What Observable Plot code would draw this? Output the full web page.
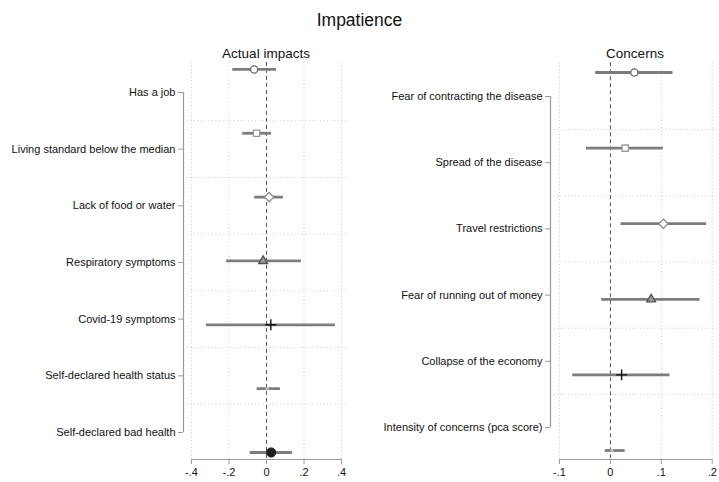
<!DOCTYPE html>
<html>
<head>
<meta charset="utf-8">
<script src="https://cdn.jsdelivr.net/npm/d3@7"></script>
<script src="https://cdn.jsdelivr.net/npm/@observablehq/plot@0.6"></script>
<style>
  html, body { margin: 0; padding: 0; background: #fff; }
  #chart { position: relative; width: 719px; height: 482px; background: #fff; font-family: "Liberation Sans", Arial, sans-serif; }
  #title { height: 40px; line-height: 40px; text-align: center; font-size: 17.5px; color: #111; }
  #panels { display: flex; flex-direction: row; }
  #panels svg { display: block; }
</style>
</head>
<body>
<div id="chart">
  <div id="title">Impatience</div>
  <div id="panels"></div>
</div>
<script>
// ---------------- data ----------------
const chartTitle = "Impatience";
const impactTitle = "Actual impacts";
const impactLabels = ["Has a job", "Living standard below the median", "Lack of food or water",
  "Respiratory symptoms", "Covid-19 symptoms", "Self-declared health status", "Self-declared bad health"];
const impactCoef = [-0.066, -0.053, 0.014, -0.018, 0.023, 0.003, 0.025];
const impactLo   = [-0.180, -0.127, -0.063, -0.213, -0.320, -0.050, -0.087];
const impactHi   = [0.053, 0.027, 0.090, 0.186, 0.367, 0.074, 0.138];
const impactTicks = [-0.4, -0.2, 0, 0.2, 0.4];

const concernTitle = "Concerns";
const concernLabels = ["Fear of contracting the disease", "Spread of the disease", "Travel restrictions",
  "Fear of running out of money", "Collapse of the economy", "Intensity of concerns (pca score)"];
const concernCoef = [0.047, 0.029, 0.104, 0.080, 0.022, 0.003];
const concernLo   = [-0.029, -0.047, 0.021, -0.017, -0.074, -0.010];
const concernHi   = [0.123, 0.104, 0.189, 0.176, 0.117, 0.029];
const concernTicks = [-0.1, 0, 0.1, 0.2];

// ---------------- styles ----------------
const FONT = '"Liberation Sans", Arial, sans-serif';
const markerStyles = [
  {symbol: "circle",    r: 3.6, stroke: "#6a6a6a", fill: "white", strokeWidth: 1.3},
  {symbol: "square2",   r: 4.0, stroke: "#9a9a9a", fill: "white", strokeWidth: 1.3},
  {symbol: "diamond2",  r: 4.2, stroke: "#8a8a8a", fill: "white", strokeWidth: 1.3},
  {symbol: "triangle2", r: 4.2, stroke: "#505050", fill: "#9a9a9a", strokeWidth: 1.3},
  {symbol: "plus",      r: 3.6, stroke: "#111111", fill: "none",  strokeWidth: 1.4},
  {symbol: "square",    r: 1.8, stroke: "none",    fill: "#bdbdbd", strokeWidth: 0},
  {symbol: "circle",    r: 4.6, stroke: "#1e1e1e", fill: "#1e1e1e", strokeWidth: 1}
];

function stataFmt(d) {
  if (Math.abs(d) < 1e-9) return "0";
  return String(+d.toFixed(3)).replace(/^(-?)0\./, "$1.");
}

function panel({title, labels, coef, lo, hi, ticks, width, marginLeft, marginRight, xDomain, yDomain, labelFirst, labelLast}) {
  const n = labels.length;
  const rows = labels.map((l, i) => ({label: l, pos: i + 1, coef: coef[i], lo: lo[i], hi: hi[i]}));
  const step = (labelLast - labelFirst) / (n - 1);
  const labelPos = labels.map((_, i) => labelFirst + i * step);
  const gridPos = labelPos.slice(0, -1).map(p => p + step / 2);
  const labelAt = new Map(labelPos.map((p, i) => [p, labels[i]]));
  const gridX = ticks.filter(t => t !== 0);

  return Plot.plot({
    width, height: 442,
    marginLeft, marginRight, marginTop: 20, marginBottom: 23,
    x: {domain: xDomain, label: null},
    y: {domain: yDomain, reverse: true, label: null},
    style: {fontFamily: FONT, fontSize: "11px", color: "#111", background: "white", overflow: "visible"},
    marks: [
      Plot.ruleY(gridPos, {stroke: "#c8c8c8", strokeDasharray: "1,2.6", strokeWidth: 1}),
      Plot.ruleX(gridX, {y1: yDomain[0] + 0.03, y2: yDomain[1], stroke: "#c8c8c8", strokeDasharray: "1,2.6", strokeWidth: 1}),
      Plot.ruleX([0], {y1: yDomain[0] + 0.03, y2: yDomain[1], stroke: "#555", strokeDasharray: "4,3", strokeWidth: 1}),
      Plot.ruleY(rows, {y: "pos", x1: "lo", x2: "hi", stroke: "#7d7d7d", strokeWidth: 2.8}),
      ...markerStyles.slice(0, n).map((s, i) => Plot.dot([rows[i]], {x: "coef", y: "pos", ...s})),
      Plot.ruleX([xDomain[0]], {y1: labelPos[0], y2: labelPos[n - 1], stroke: "#9a9a9a", strokeWidth: 1.2}),
      Plot.ruleY([yDomain[1]], {x1: ticks[0], x2: ticks[ticks.length - 1], stroke: "#9a9a9a", strokeWidth: 1.2}),
      Plot.axisY(labelPos, {anchor: "left", label: null, tickSize: 5, tickPadding: 3, stroke: "#9a9a9a", tickFormat: d => labelAt.get(d), fill: "#111", fontSize: 11}),
      Plot.axisX(ticks, {anchor: "bottom", label: null, tickSize: 5, tickPadding: 4, stroke: "#9a9a9a", tickFormat: stataFmt, fill: "#111", fontSize: 11}),
      Plot.text([title], {text: d => d, frameAnchor: "top", lineAnchor: "middle", dy: -7, fontSize: 13.5, fill: "#111"})
    ]
  });
}

const left = panel({
  title: impactTitle, labels: impactLabels, coef: impactCoef, lo: impactLo, hi: impactHi, ticks: impactTicks,
  width: 360, marginLeft: 183, marginRight: 12,
  xDomain: [-0.4427, 0.4373], yDomain: [0.86, 7.11],
  labelFirst: 1.36, labelLast: 6.687
});
const right = panel({
  title: concernTitle, labels: concernLabels, coef: concernCoef, lo: concernLo, hi: concernHi, ticks: concernTicks,
  width: 359, marginLeft: 190, marginRight: 0,
  xDomain: [-0.1177, 0.2143], yDomain: [0.841, 6.119],
  labelFirst: 1.317, labelLast: 5.696
});
document.getElementById("title").textContent = chartTitle;
document.getElementById("panels").append(left, right);
</script>
</body>
</html>
